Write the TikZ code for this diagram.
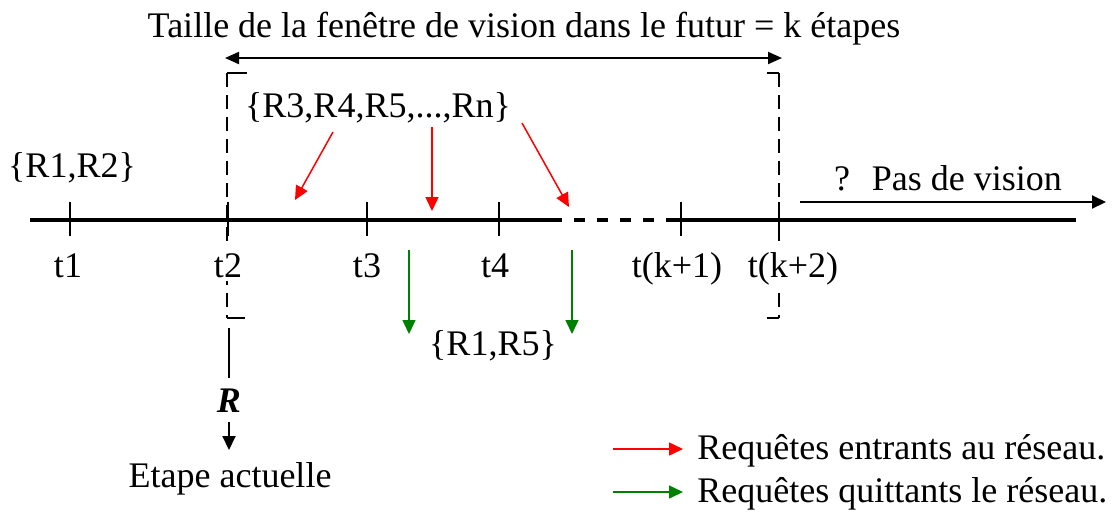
\documentclass[tikz,border=0pt]{standalone}
\usepackage{fontspec}
\setmainfont{Liberation Serif}
\usetikzlibrary{arrows.meta}
\begin{document}
\begin{tikzpicture}[x=0.5pt,y=-0.5pt,font=\fontsize{18}{21}\selectfont,
  lbl/.style={anchor=base,inner sep=0pt},
  tlbl/.style={lbl,fill=white,inner sep=2pt},
  tip/.style={-{Triangle[length=7pt,width=6.5pt]}},
  wincut/.style={dash pattern=on 7pt off 4pt,line width=0.8pt},
  reqin/.style={tip,red,line width=0.75pt},
  reqout/.style={tip,green!50!black,line width=0.75pt}]
\useasboundingbox (0,0) rectangle (1116,511);
% titre et fenetre
\node[lbl] (titre) at (524,37) {Taille de la fenêtre de vision dans le futur = k étapes};
\coordinate (wl) at (225,58); \coordinate (wr) at (782,58);
\draw[{Triangle[length=7pt,width=6pt]}-{Triangle[length=7pt,width=6pt]},line width=1pt] (wl) -- (wr);
\coordinate (gh) at (227,73); \coordinate (gb) at (227,318);
\coordinate (dh) at (779,73); \coordinate (db) at (779,318);
\draw[line width=0.8pt] ([xshift=10pt]gh) -- (gh) ([xshift=9pt]gb) -- (gb);
\draw[line width=0.8pt] ([xshift=-6pt]dh) -- (dh) ([xshift=-6pt]db) -- (db);
\draw[wincut] (gh) -- (gb);
\draw[wincut] (dh) -- (db);
% axe du temps
\coordinate (a0) at (30,220); \coordinate (a1) at (562,220);
\coordinate (a2) at (668,220); \coordinate (a3) at (1076,220);
\draw[line width=2pt] (a0) -- (a1);
\draw[line width=2pt,dash pattern=on 5.5pt off 6pt,dash phase=5.5pt] (a1) -- (a2);
\draw[line width=2pt] (a2) -- (a3);
\foreach \x in {70,228,367,499,681,779}
  \draw[line width=1.2pt] (\x,202) -- (\x,236);
\foreach \x/\t/\n in {68/t1/l1,228/t2/l2,367/t3/l3,495/t4/l4,677/t(k+1)/l5,793/t(k+2)/l6}
  \node[tlbl] (\n) at (\x,277) {\t};
% requetes
\node[lbl] (rin) at (378,117) {\{R3,R4,R5,...,Rn\}};
\node[lbl] (rold) at (72,177) {\{R1,R2\}};
\node[lbl] (rout) at (493,355) {\{R1,R5\}};
\coordinate (i1) at (333,132); \coordinate (j1) at (295,200);
\coordinate (i2) at (432,127); \coordinate (j2) at (432,211);
\coordinate (i3) at (522,123); \coordinate (j3) at (569,207);
\draw[reqin] (i1) -- (j1);
\draw[reqin] (i2) -- (j2);
\draw[reqin] (i3) -- (j3);
\coordinate (o1) at (409,250); \coordinate (p1) at (409,334);
\coordinate (o2) at (572,250); \coordinate (p2) at (572,334);
\draw[reqout] (o1) -- (p1);
\draw[reqout] (o2) -- (p2);
% pas de vision
\node[lbl] (pas) at (948,190) {?\hspace{0.6em}Pas de vision};
\coordinate (v0) at (800,202); \coordinate (v1) at (1106,202);
\draw[tip,line width=1pt] (v0) -- (v1);
% etape actuelle
\node[lbl] (r) at (229,412) {\textbf{\textit{R}}};
\node[lbl] (etape) at (230,487) {Etape actuelle};
\coordinate (e0) at (229,328); \coordinate (e1) at (229,378);
\coordinate (e2) at (229,422); \coordinate (e3) at (229,450);
\draw[line width=1pt] (e0) -- (e1);
\draw[tip,line width=1pt] (e2) -- (e3);
% legende
\node[lbl,anchor=base west] (leg1) at (697,459) {Requêtes entrants au réseau.};
\node[lbl,anchor=base west] (leg2) at (697,502) {Requêtes quittants le réseau.};
\draw[reqin] ([xshift=-42pt,yshift=5pt]leg1.base west) -- ([xshift=-7pt,yshift=5pt]leg1.base west);
\draw[reqout] ([xshift=-42pt,yshift=5pt]leg2.base west) -- ([xshift=-7pt,yshift=5pt]leg2.base west);
\end{tikzpicture}
\end{document}
